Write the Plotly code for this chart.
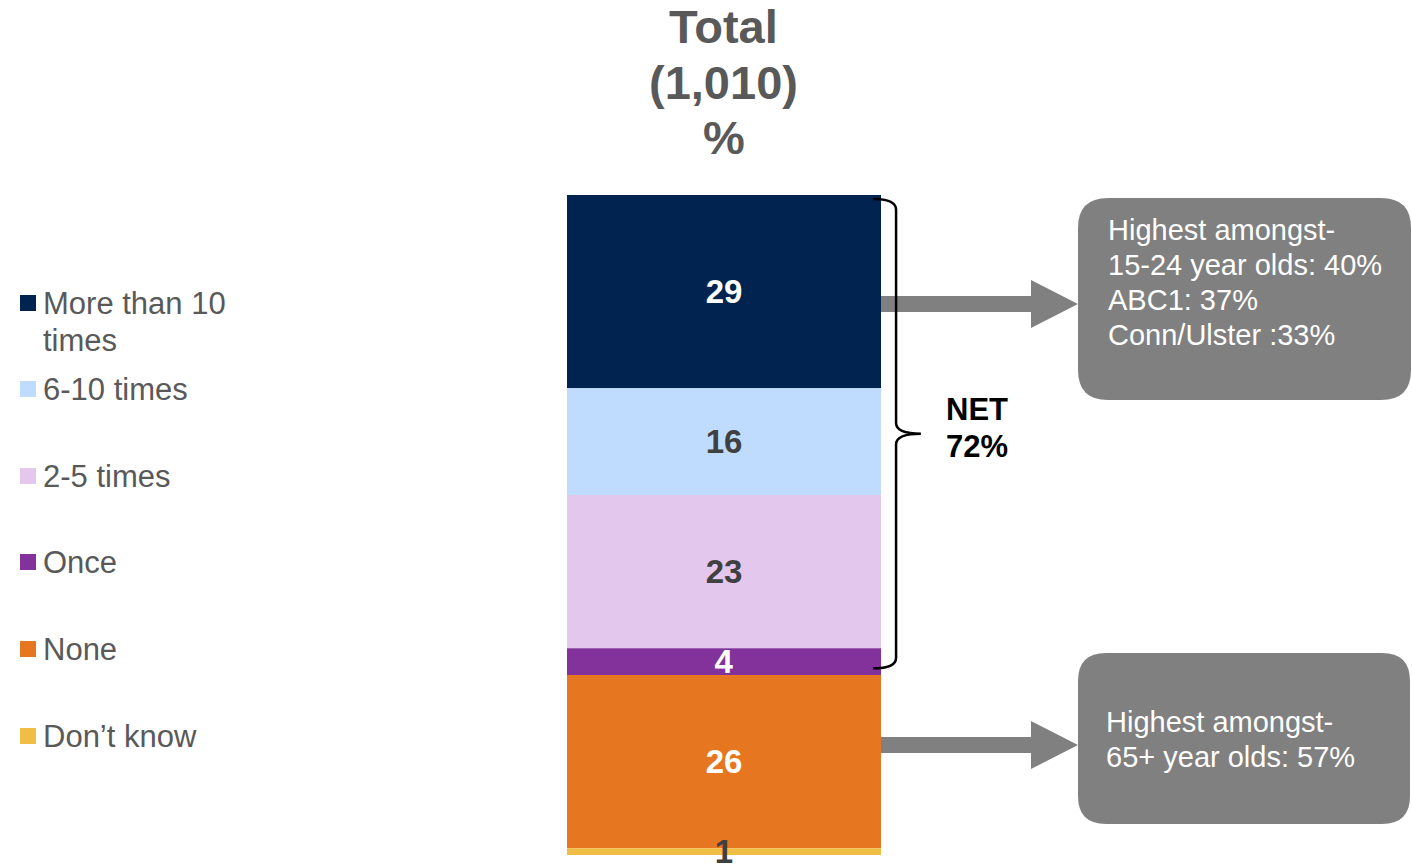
import plotly.graph_objects as go

# Survey responses, stacked bottom to top
categories = ["Don’t know", "None", "Once", "2-5 times", "6-10 times", "More than 10 times"]
values = [1, 26, 4, 23, 16, 29]
colors = ["#F0BE44", "#E77620", "#82329A", "#E3C7EC", "#BFDCFE", "#00244F"]
label_colors = ["#404040", "#FFFFFF", "#FFFFFF", "#404040", "#404040", "#FFFFFF"]

# Legend entries, top to bottom (wrapped text)
legend_labels = [["More than 10", "times"], ["6-10 times"], ["2-5 times"], ["Once"], ["None"], ["Don’t know"]]
legend_colors = ["#00244F", "#BFDCFE", "#E3C7EC", "#82329A", "#E77620", "#F0BE44"]

title_lines = ["Total", "(1,010)", "%"]
callout_top = ["Highest amongst-", "15-24 year olds: 40%", "ABC1: 37%", "Conn/Ulster :33%"]
callout_bottom = ["Highest amongst-", "65+ year olds: 57%"]

FONT = "Liberation Sans, Arial, sans-serif"
W, H = 1412, 864
TOP, BOTTOM = 195, 855
BAR_LEFT, BAR_RIGHT = 567, 881
GREY = "#808080"
TEXT_GREY = "#595959"


def px(x):
    return x / W


def py(y):
    return (BOTTOM - y) / (BOTTOM - TOP)


# Segment bases (cumulative sums) so segments can be drawn top-first,
# keeping the labels of the lower segments on top of their neighbours.
bases = []
acc = 0
for v in values:
    bases.append(acc)
    acc += v
total = acc

fig = go.Figure()
for cat, v, b, c, lc in reversed(list(zip(categories, values, bases, colors, label_colors))):
    fig.add_trace(go.Bar(
        x=[0], y=[v], base=[b], width=[1], name=cat,
        marker=dict(color=c, line=dict(width=0)),
        text=[v], textposition="inside", insidetextanchor="middle",
        textangle=0, constraintext="none", cliponaxis=False,
        textfont=dict(family=FONT, size=33, color=lc, weight="bold"),
        hoverinfo="skip",
    ))

bar_px = BAR_RIGHT - BAR_LEFT
center_px = (BAR_LEFT + BAR_RIGHT) / 2
x_range = [-center_px / bar_px, (W - center_px) / bar_px]

shapes = []
annotations = []

# Arrows from the bar to the callout boxes
def arrow(yc):
    x0, xh, xt = BAR_RIGHT, 1031, 1078
    sh, hh = 8, 24
    pts = [(x0, yc - sh), (xh, yc - sh), (xh, yc - hh), (xt, yc),
           (xh, yc + hh), (xh, yc + sh), (x0, yc + sh)]
    d = "M " + " L ".join(f"{px(a):.5f},{py(b):.5f}" for a, b in pts) + " Z"
    return dict(type="path", xref="paper", yref="paper", path=d,
                fillcolor=GREY, line=dict(width=0), layer="above")

shapes.append(arrow(304))
shapes.append(arrow(745))

# Rounded callout boxes
def rounded_box(x0, y0, x1, y1, r):
    def p(a, b):
        return f"{px(a):.5f},{py(b):.5f}"
    d = (f"M {p(x0 + r, y0)} L {p(x1 - r, y0)} Q {p(x1, y0)} {p(x1, y0 + r)} "
         f"L {p(x1, y1 - r)} Q {p(x1, y1)} {p(x1 - r, y1)} "
         f"L {p(x0 + r, y1)} Q {p(x0, y1)} {p(x0, y1 - r)} "
         f"L {p(x0, y0 + r)} Q {p(x0, y0)} {p(x0 + r, y0)} Z")
    return dict(type="path", xref="paper", yref="paper", path=d,
                fillcolor=GREY, line=dict(width=0), layer="above")

shapes.append(rounded_box(1078, 198, 1411, 400, 30))
shapes.append(rounded_box(1078, 653, 1410, 824, 28))

# Curly brace spanning the NET segments (Once and above)
lo = bases[2]
hi = total
yt, yb = hi - 0.6, lo + 1.0
ym = (yt + yb) / 2
xa, xb, xc = 0.475, 0.548, 0.627
r = 1.6
brace = (f"M {xa},{yt} Q {xb},{yt} {xb},{yt - r} L {xb},{ym + r} "
         f"Q {xb},{ym} {xc},{ym} Q {xb},{ym} {xb},{ym - r} "
         f"L {xb},{yb + r} Q {xb},{yb} {xa},{yb}")
shapes.append(dict(type="path", xref="x", yref="y", path=brace,
                   line=dict(color="black", width=2.5), layer="above"))

net = sum(values[2:])
for txt, yc in zip(["NET", f"{net}%"], [409, 446]):
    annotations.append(dict(x=px(944), y=py(yc), xref="paper", yref="paper",
                            text=f"<b>{txt}</b>", showarrow=False,
                            xanchor="left", yanchor="middle",
                            font=dict(family=FONT, size=31, color="black")))

# Title
for txt, yc in zip(title_lines, [27, 82, 137]):
    annotations.append(dict(x=px(724), y=py(yc), xref="paper", yref="paper",
                            text=f"<b>{txt}</b>", showarrow=False,
                            xanchor="center", yanchor="middle",
                            font=dict(family=FONT, size=47, color=TEXT_GREY)))

# Legend
legend_y = [303, 389, 476, 562, 649, 736]
for lines, c, yc in zip(legend_labels, legend_colors, legend_y):
    shapes.append(dict(type="rect", xref="paper", yref="paper",
                       x0=px(20), x1=px(36), y0=py(yc - 8), y1=py(yc + 8),
                       fillcolor=c, line=dict(width=0)))
    for i, line in enumerate(lines):
        annotations.append(dict(x=px(41), y=py(yc + i * 37), xref="paper", yref="paper",
                                text=line, showarrow=False,
                                xanchor="left", yanchor="middle",
                                font=dict(family=FONT, size=31, color=TEXT_GREY)))

# Callout texts
for lines, x0, y0 in [(callout_top, 1106, 230), (callout_bottom, 1104, 722)]:
    for i, line in enumerate(lines):
        annotations.append(dict(x=px(x0), y=py(y0 + i * 35), xref="paper", yref="paper",
                                text=line, showarrow=False,
                                xanchor="left", yanchor="middle",
                                font=dict(family=FONT, size=29, color="white")))

fig.update_layout(
    width=W, height=H,
    barmode="overlay",
    showlegend=False,
    margin=dict(l=0, r=0, t=TOP, b=H - BOTTOM, pad=0),
    paper_bgcolor="white", plot_bgcolor="white",
    xaxis=dict(visible=False, range=x_range, fixedrange=True),
    yaxis=dict(visible=False, range=[0, total], fixedrange=True),
    shapes=shapes, annotations=annotations,
)

fig.write_html("out.html", config={"displayModeBar": False})
